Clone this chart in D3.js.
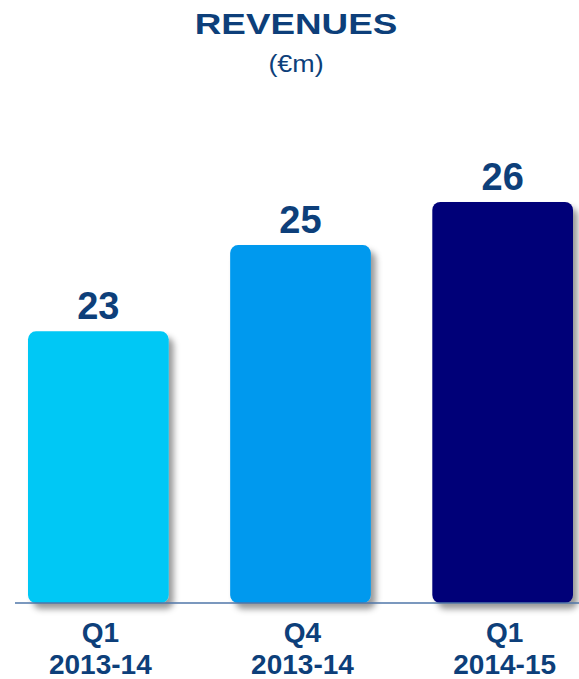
<!DOCTYPE html>
<html>
<head>
<meta charset="utf-8">
<script src="https://cdn.jsdelivr.net/npm/d3@7"></script>
<style>
  body { margin: 0; background: #fff; }
  svg { display: block; }
  text { font-family: Arial, "Liberation Sans", sans-serif; }
</style>
</head>
<body>
<svg id="chart" width="579" height="679"></svg>
<script>
// data
var quarters = ["Q1", "Q4", "Q1"];
var years = ["2013-14", "2013-14", "2014-15"];
var revenues = [23, 25, 26];
var barColors = ["#00c8f5", "#0099ee", "#000078"];

var width = 579, height = 679;
var textColor = "#0d3f7a";
var baseY = 603;

var svg = d3.select("#chart");

// drop shadow for bars
var defs = svg.append("defs");
var filter = defs.append("filter")
  .attr("id", "shadow")
  .attr("x", "-10%").attr("y", "-10%")
  .attr("width", "130%").attr("height", "130%");
filter.append("feDropShadow")
  .attr("dx", 5).attr("dy", 6)
  .attr("stdDeviation", 3)
  .attr("flood-color", "#000")
  .attr("flood-opacity", 0.4);

// Title (text in the original is stretched wide)
svg.append("text")
  .attr("transform", "translate(296,34) scale(1.27,1)")
  .attr("text-anchor", "middle")
  .attr("font-size", 29).attr("font-weight", "bold")
  .attr("fill", textColor)
  .text("REVENUES");
svg.append("text")
  .attr("transform", "translate(296,72) scale(1.12,1)")
  .attr("text-anchor", "middle")
  .attr("font-size", 24)
  .attr("fill", textColor)
  .text("(€m)");

// scales
var idx = d3.range(revenues.length);
var x = d3.scaleBand()
  .domain(idx)
  .range([28, 573])
  .paddingInner(0.304)
  .paddingOuter(0);

var y = d3.scaleLinear()
  .domain([16.7, 26])
  .range([baseY, 202]);

// bars
svg.append("g").selectAll("rect")
  .data(idx)
  .join("rect")
  .attr("x", function(i) { return x(i); })
  .attr("y", function(i) { return y(revenues[i]); })
  .attr("width", x.bandwidth())
  .attr("height", function(i) { return baseY - y(revenues[i]); })
  .attr("rx", 8).attr("ry", 8)
  .attr("fill", function(i) { return barColors[i]; })
  .attr("filter", "url(#shadow)");

// baseline
svg.append("line")
  .attr("x1", 15).attr("x2", width)
  .attr("y1", baseY).attr("y2", baseY)
  .attr("stroke", "#4f76a8")
  .attr("stroke-width", 1.5);

// value labels
svg.append("g").selectAll("text")
  .data(idx)
  .join("text")
  .attr("x", function(i) { return x(i) + x.bandwidth() / 2; })
  .attr("y", function(i) { return y(revenues[i]) - 12; })
  .attr("text-anchor", "middle")
  .attr("font-size", 38).attr("font-weight", "bold")
  .attr("fill", textColor)
  .text(function(i) { return revenues[i]; });

// category labels
var cats = svg.append("g").selectAll("text")
  .data(idx)
  .join("text")
  .attr("x", function(i) { return x(i) + x.bandwidth() / 2; })
  .attr("text-anchor", "middle")
  .attr("font-size", 28).attr("font-weight", "bold")
  .attr("fill", textColor);
cats.append("tspan")
  .attr("x", function(i) { return x(i) + x.bandwidth() / 2 + 2; })
  .attr("y", 642)
  .text(function(i) { return quarters[i]; });
cats.append("tspan")
  .attr("x", function(i) { return x(i) + x.bandwidth() / 2 + 2; })
  .attr("y", 674)
  .text(function(i) { return years[i]; });
</script>
</body>
</html>
